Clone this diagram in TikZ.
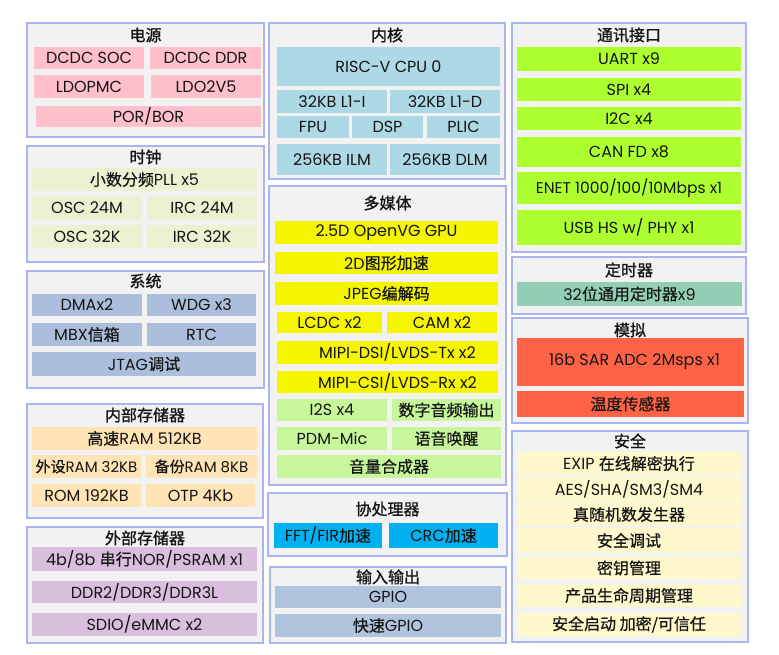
\documentclass[tikz,border=0pt]{standalone}
\usepackage{fontspec}
\setmainfont{Poppins}
\newfontfamily\cjk[FakeBold=0.6]{Noto Sans CJK SC}
\newfontfamily\cjkt[FakeBold=1.2]{Noto Sans CJK SC}
\newcommand\C[1]{{\cjk #1}}
\definecolor{grpfill}{HTML}{F2F2F2}
\definecolor{grpline}{HTML}{A9B5EC}
\definecolor{txt}{HTML}{151515}
\definecolor{cpow}{HTML}{FFC0CB}
\definecolor{ccore}{HTML}{ADD8E6}
\definecolor{ccomm}{HTML}{ADFF2F}
\definecolor{cclk}{HTML}{EEF0D2}
\definecolor{csys}{HTML}{ABBFDC}
\definecolor{cmm}{HTML}{F5F500}
\definecolor{caud}{HTML}{C7F79A}
\definecolor{ctmr}{HTML}{93CFB5}
\definecolor{cana}{HTML}{FF6347}
\definecolor{cim}{HTML}{FFE4B5}
\definecolor{cem}{HTML}{D9BEDD}
\definecolor{ccop}{HTML}{00B0F0}
\definecolor{cio}{HTML}{B0C4DE}
\definecolor{csec}{HTML}{FFF8CC}
\tikzset{
  grpbox/.style={draw=grpline, fill=grpfill, line width=1.2pt, inner sep=0pt, outer sep=0pt},
  itm/.style={inner sep=0pt, outer sep=0pt, text=txt, font=\fontsize{16}{19}\selectfont},
  ttl/.style={inner sep=0pt, text=txt, font=\fontsize{16}{19}\selectfont\cjkt},
}
\newcommand\blk[7]{\node[itm,fill=#6,minimum width={#4-#2},minimum height={#5-#3}] (#1) at ({(#2+#4)/2},{(#3+#5)/2}) {#7};}
\newcommand\grp[7]{\node[grpbox,minimum width={#4-#2},minimum height={#5-#3}] (#1) at ({(#2+#4)/2},{(#3+#5)/2}) {};
  \node[ttl] (#1t) at ({(#2+#4)/2},#6) {#7};}
\begin{document}
\begin{tikzpicture}[x=1pt,y=-1pt]
\fill[white] (0,0) rectangle (779,655);
\useasboundingbox (0,0) rectangle (779,655);
% ---- left column
\grp{gpow}{27}{23}{264}{137}{35}{电源}
\blk{pw1}{34}{47}{144}{69}{cpow}{DCDC SOC}
\blk{pw2}{150}{47}{261}{69}{cpow}{DCDC DDR}
\blk{pw3}{34}{75}{144}{98}{cpow}{LDOPMC}
\blk{pw4}{151}{75}{261}{98}{cpow}{LDO2V5}
\blk{pw5}{36}{106}{261}{127}{cpow}{POR/BOR}
\grp{gclk}{27}{146}{264}{262}{157}{时钟}
\blk{ck1}{32}{168}{257}{191}{cclk}{\C{小数分频}PLL x5}
\blk{ck2}{32}{196}{142}{220}{cclk}{OSC 24M}
\blk{ck3}{147}{196}{257}{220}{cclk}{IRC 24M}
\blk{ck4}{32}{225}{142}{248}{cclk}{OSC 32K}
\blk{ck5}{147}{225}{257}{248}{cclk}{IRC 32K}
\grp{gsys}{27}{271}{264}{388}{281}{系统}
\blk{sy1}{32}{294}{142}{316}{csys}{DMAx2}
\blk{sy2}{147}{294}{256}{316}{csys}{WDG x3}
\blk{sy3}{32}{323}{142}{346}{csys}{MBX\C{信箱}}
\blk{sy4}{147}{323}{256}{346}{csys}{RTC}
\blk{sy5}{32}{352}{256}{376}{csys}{JTAG\C{调试}}
\grp{gim}{27}{404}{263}{518}{415}{内部存储器}
\blk{im1}{32}{427}{257}{450}{cim}{\C{高速}RAM 512KB}
\blk{im2}{32}{455}{141}{478}{cim}{\fontsize{15}{18}\selectfont\C{外设}RAM 32KB}
\blk{im3}{146}{455}{257}{478}{cim}{\fontsize{15}{18}\selectfont\C{备份}RAM 8KB}
\blk{im4}{32}{484}{141}{507}{cim}{ROM 192KB}
\blk{im5}{146}{484}{255}{507}{cim}{OTP 4Kb}
\grp{gem}{27}{527}{263}{643}{538}{外部存储器}
\blk{em1}{32}{547}{257}{571}{cem}{4b/8b \C{串行}NOR/PSRAM x1}
\blk{em2}{32}{581}{257}{603}{cem}{DDR2/DDR3/DDR3L}
\blk{em3}{32}{613}{257}{636}{cem}{SDIO/eMMC x2}
% ---- middle column
\grp{gcore}{269}{23}{505}{179}{35}{内核}
\blk{c1}{277}{47}{500}{86}{ccore}{RISC-V CPU 0}
\blk{c2}{277}{90}{387}{113}{ccore}{32KB L1-I}
\blk{c3}{390}{90}{500}{113}{ccore}{32KB L1-D}
\blk{c4}{277}{116}{349}{138}{ccore}{FPU}
\blk{c5}{352}{116}{423}{138}{ccore}{DSP}
\blk{c6}{427}{116}{500}{138}{ccore}{PLIC}
\blk{c7}{277}{144}{387}{175}{ccore}{256KB ILM}
\blk{c8}{390}{144}{500}{175}{ccore}{256KB DLM}
\grp{gmm}{269}{186}{506}{485}{203}{多媒体}
\blk{m1}{275}{221}{498}{244}{cmm}{2.5D OpenVG GPU}
\blk{m2}{275}{252}{498}{274}{cmm}{2D\C{图形加速}}
\blk{m3}{275}{282}{498}{305}{cmm}{JPEG\C{编解码}}
\blk{m4}{277}{312}{382}{333}{cmm}{LCDC x2}
\blk{m5}{387}{312}{497}{333}{cmm}{CAM x2}
\blk{m6}{277}{341}{498}{364}{cmm}{\hspace{20pt}MIPI-DSI/LVDS-Tx x2}
\blk{m7}{277}{371}{498}{393}{cmm}{\hspace{20pt}MIPI-CSI/LVDS-Rx x2}
\blk{m8}{277}{399}{387}{421}{caud}{I2S x4}
\blk{m9}{392}{399}{501}{421}{caud}{\C{数字音频输出}}
\blk{m10}{277}{427}{387}{450}{caud}{PDM-Mic}
\blk{m11}{392}{427}{501}{450}{caud}{\C{语音唤醒}}
\blk{m12}{277}{455}{501}{478}{caud}{\C{音量合成器}}
\grp{gcop}{268}{493}{507}{556}{509}{协处理器}
\blk{cp1}{274}{523}{382}{548}{ccop}{FFT/FIR\C{加速}}
\blk{cp2}{389}{523}{498}{548}{ccop}{CRC\C{加速}}
\grp{gio}{270}{567}{506}{643}{577}{输入输出}
\blk{io1}{275}{586}{501}{608}{cio}{GPIO}
\blk{io2}{275}{614}{501}{637}{cio}{\C{快速}GPIO}
% ---- right column
\grp{gcomm}{512}{23}{746}{252}{35}{通讯接口}
\blk{u1}{517}{47}{741}{71}{ccomm}{UART x9}
\blk{u2}{517}{78}{741}{101}{ccomm}{SPI x4}
\blk{u3}{517}{107}{741}{130}{ccomm}{I2C x4}
\blk{u4}{517}{137}{741}{167}{ccomm}{CAN FD x8}
\blk{u5}{517}{172}{741}{204}{ccomm}{\fontsize{15.5}{18}\selectfont ENET 1000/100/10Mbps x1}
\blk{u6}{517}{210}{741}{245}{ccomm}{USB HS w/ PHY x1}
\grp{gtmr}{512}{257}{746}{314}{270}{定时器}
\blk{t1}{517}{282}{742}{306}{ctmr}{32\C{位通用定时器}x9}
\grp{gana}{512}{318}{748}{423}{330}{模拟}
\blk{a1}{517}{338}{744}{386}{cana}{\hspace{8pt}16b SAR ADC 2Msps x1}
\blk{a2}{517}{391}{744}{417}{cana}{\C{温度传感器}}
\grp{gsec}{512}{431}{748}{642}{441}{安全}
\blk{s1}{517}{452}{741}{475}{csec}{EXIP \C{在线解密执行}}
\blk{s2}{517}{477}{741}{502}{csec}{AES/SHA/SM3/SM4}
\blk{s3}{517}{503}{741}{526}{csec}{\C{真随机数发生器}}
\blk{s4}{517}{528}{741}{553}{csec}{\C{安全调试}}
\blk{s5}{517}{557}{741}{579}{csec}{\C{密钥管理}}
\blk{s6}{517}{584}{741}{607}{csec}{\C{产品生命周期管理}}
\blk{s7}{517}{613}{741}{636}{csec}{\C{安全启动 加密/可信任}}
\end{tikzpicture}
\end{document}
